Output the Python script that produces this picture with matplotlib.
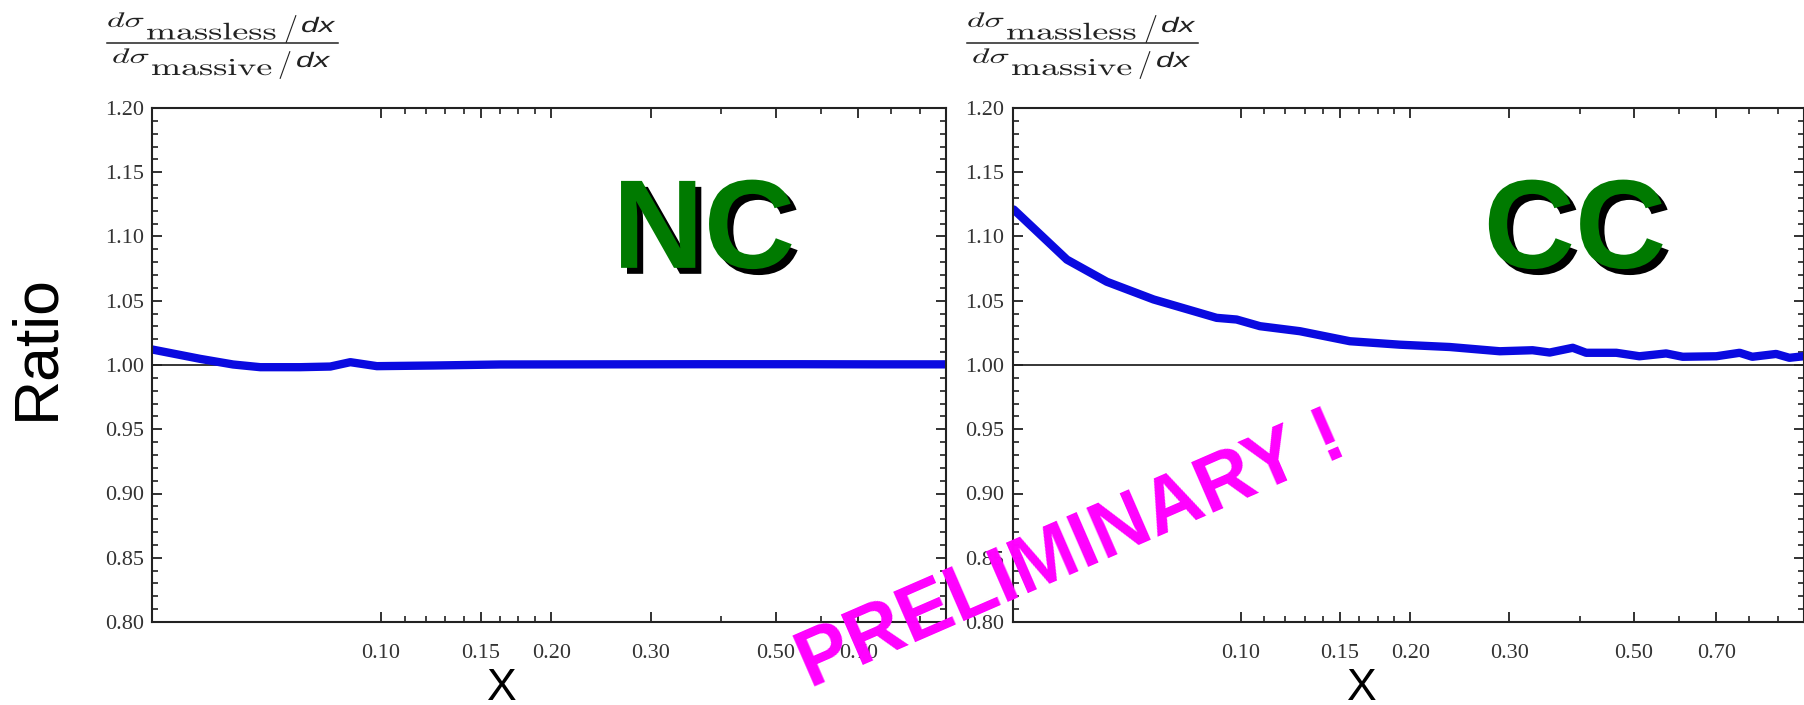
import numpy as np
import matplotlib
matplotlib.use("Agg")
import matplotlib.pyplot as plt
import matplotlib.patheffects as pe
from matplotlib.ticker import FixedLocator, FixedFormatter
from matplotlib.textpath import TextPath
from matplotlib.patches import PathPatch
from matplotlib.font_manager import FontProperties
from matplotlib.transforms import Affine2D, IdentityTransform
from matplotlib.lines import Line2D

# ratio curves
nc_x = [0.0393, 0.0478, 0.0547, 0.0611, 0.0719, 0.0813, 0.0882, 0.0983,
        0.1237, 0.1626, 0.245, 0.368, 0.553, 0.75, 1.0]
nc_y = [1.0121, 1.0048, 1.0004, 0.9983, 0.9983, 0.9988, 1.0022, 0.9991,
        0.9996, 1.0004, 1.0005, 1.0006, 1.0006, 1.0005, 1.0005]

cc_x = [0.0395, 0.0491, 0.0578, 0.0700, 0.0846, 0.0906, 0.0983, 0.1082,
        0.1274, 0.1563, 0.1918, 0.2352, 0.2886, 0.330, 0.354, 0.389,
        0.411, 0.465, 0.511, 0.570, 0.610, 0.700, 0.770, 0.811, 0.894,
        0.944, 1.0]
cc_y = [1.121, 1.082, 1.0648, 1.051, 1.0405, 1.0367, 1.0354, 1.0302,
        1.0263, 1.0185, 1.0158, 1.014, 1.0107, 1.0115, 1.0097, 1.0134,
        1.0095, 1.0095, 1.0068, 1.009, 1.0064, 1.0068, 1.0095, 1.0064,
        1.0086, 1.0056, 1.0068]

x_major = [0.10, 0.15, 0.20, 0.30, 0.50, 0.70]
x_labels = ["0.10", "0.15", "0.20", "0.30", "0.50", "0.70"]
x_minor = [0.11, 0.12, 0.13, 0.14, 0.1625, 0.175, 0.1875, 0.4, 0.6, 0.8, 0.9]
y_major = [0.80, 0.85, 0.90, 0.95, 1.00, 1.05, 1.10, 1.15, 1.20]
y_minor = np.arange(0.80, 1.2001, 0.01)

plt.rcParams['mathtext.fontset'] = 'cm'

W, H = 1804, 705
fig = plt.figure(figsize=(W / 100, H / 100), dpi=100)
ax1 = fig.add_axes([152 / W, 83 / H, 794 / W, 514 / H])
ax2 = fig.add_axes([1012.5 / W, 83 / H, 791 / W, 514 / H])

blue = '#0a0ae0'
green = '#007a00'
ink = '#222222'

for ax, xs, ys, name, tx in [(ax1, nc_x, nc_y, "NC", 0.695),
                             (ax2, cc_x, cc_y, "CC", 0.711)]:
    ax.axhline(1.0, color='black', lw=1.1, zorder=1)
    ax.plot(xs, ys, color=blue, lw=6, solid_capstyle='round', zorder=2)
    ax.set_xscale('log')
    ax.set_xlim(0.0393, 1.0)
    ax.set_ylim(0.80, 1.20)
    ax.xaxis.set_major_locator(FixedLocator(x_major))
    ax.xaxis.set_major_formatter(FixedFormatter(x_labels))
    ax.xaxis.set_minor_locator(FixedLocator(x_minor))
    ax.xaxis.set_minor_formatter(FixedFormatter([]))
    ax.yaxis.set_major_locator(FixedLocator(y_major))
    ax.set_yticklabels(["%.2f" % v for v in y_major])
    ax.yaxis.set_minor_locator(FixedLocator(y_minor))
    ax.tick_params(which='both', direction='in', top=True, right=True,
                   colors=ink, labelcolor='#333333')
    ax.tick_params(which='major', length=7.5, width=1.3)
    ax.tick_params(which='minor', length=4.5, width=1.2)
    ax.tick_params(axis='x', which='major', pad=16)
    ax.tick_params(axis='y', which='major', pad=6)
    for lab in ax.get_xticklabels() + ax.get_yticklabels():
        lab.set_family('Liberation Serif')
        lab.set_fontsize(16)
    for s in ax.spines.values():
        s.set_linewidth(1.5)
        s.set_color(ink)
    ax.text(tx, 0.689, name, transform=ax.transAxes, ha='center', va='baseline',
            fontsize=91, fontweight='bold', family='Liberation Sans', color=green,
            path_effects=[pe.SimplePatchShadow(offset=(4.3, -4.3), shadow_rgbFace='black',
                                               alpha=1.0), pe.Normal()])


# the d sigma / dx fraction above each panel, drawn piece by piece in pixels
sans_it = FontProperties(family='Liberation Sans', style='italic')


def piece(s, x, base, size, prop=None, sx=1.5):
    tp = TextPath((0, 0), s, size=size, prop=prop)
    tr = Affine2D().scale(sx, 1.0).translate(x, H - base)
    fig.add_artist(PathPatch(tr.transform_path(tp), fc=ink, ec='none', lw=0,
                             transform=IdentityTransform()))


def fraction(x0):
    piece(r'$d\sigma$', x0 + 0, 27, 21, sx=1.6)
    piece(r'$\mathrm{massless}$', x0 + 39, 39.5, 24)
    piece(r'$/$', x0 + 177, 36, 28, sx=1.0)
    piece('dx', x0 + 194, 32, 21, prop=sans_it)
    piece(r'$d\sigma$', x0 + 5, 63, 21, sx=1.6)
    piece(r'$\mathrm{massive}$', x0 + 44, 75, 24)
    piece(r'$/$', x0 + 171, 72, 28, sx=1.0)
    piece('dx', x0 + 189, 67, 21, prop=sans_it)
    fig.add_artist(Line2D([x0, x0 + 231], [H - 42.5, H - 42.5], color=ink, lw=1.1,
                          transform=IdentityTransform()))


fraction(107)
fraction(967)

fig.text(37 / W, 1 - 347 / H, 'Ratio', rotation=90, ha='center', va='center',
         fontsize=45, family='Liberation Sans')
fig.text(502 / W, 5 / H, 'X', ha='center', va='baseline', fontsize=32,
         family='Liberation Sans')
fig.text(1362 / W, 5 / H, 'X', ha='center', va='baseline', fontsize=32,
         family='Liberation Sans')

fig.text(1080 / W, 1 - 570 / H, 'PRELIMINARY !', rotation=23.5,
         rotation_mode='anchor', ha='center', va='baseline', fontsize=57,
         fontweight='bold', family='Liberation Sans', color='#ff00ff', zorder=10)

fig.savefig('out.png', dpi=100)
